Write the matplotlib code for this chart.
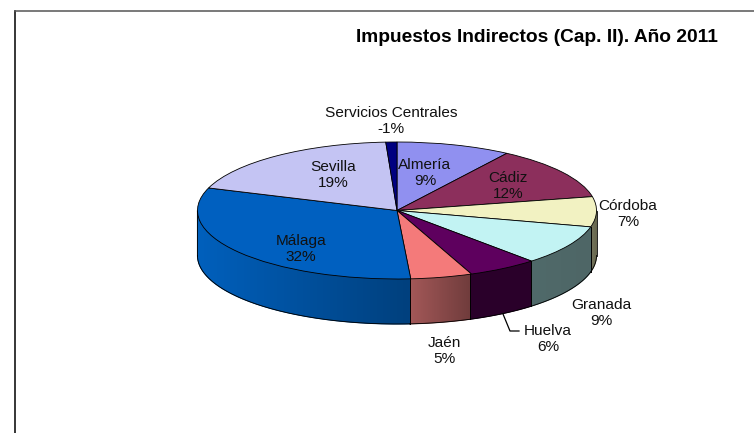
import numpy as np
import matplotlib
matplotlib.use("Agg")
import matplotlib.pyplot as plt
from matplotlib.colors import to_rgb
from matplotlib.patches import Polygon

plt.rcParams['font.family'] = ['Liberation Sans', 'DejaVu Sans']

# Datos
provincias = ["Almería", "Cádiz", "Córdoba", "Granada", "Huelva", "Jaén", "Málaga", "Sevilla", "Servicios Centrales"]
porcentajes = ["9%", "12%", "7%", "9%", "6%", "5%", "32%", "19%", "-1%"]
cuotas = [9.3, 12.5, 7.1, 9.4, 5.7, 5.0, 31.5, 18.8, 0.9]

colores = ["#9090f0", "#8c2f5c", "#f2f2c2", "#c2f3f3", "#5e005e", "#f47a7a", "#0060c0", "#c4c4f3", "#000080"]
pared_izq = ["#9090f0", "#8c2f5c", "#76765c", "#506a6a", "#2a002a", "#a35858", "#0060bc", "#c4c4f3", "#000080"]
pared_der = ["#9090f0", "#8c2f5c", "#66664e", "#4e6666", "#2a002a", "#703c3c", "#00407e", "#c4c4f3", "#000080"]

# posicion de etiquetas en pixeles
pos_x = [425, 508, 628, 601, 548, 444, 301, 333, 391]
pos_y = [173, 186, 214, 313, 339, 351, 249, 175, 121]

W, H = 754, 433
cx, cy, a, b, prof = 397, 210.5, 199.5, 68.5, 45

fig = plt.figure(figsize=(W / 100, H / 100), dpi=100)
ax = fig.add_axes([0, 0, 1, 1])

# pared lateral primero, con degradado recortado
prof_u = prof / b
ang = 90.0
for i, c in enumerate(cuotas):
    fin = ang - c * 3.6
    # solo la parte delantera: de -180 a 0 grados
    ini_t, fin_t = max(fin, -180.0), min(ang, 0.0)
    if ini_t < fin_t:
        t = np.linspace(ini_t, fin_t, 200)
        xs, ys = np.cos(np.radians(t)), np.sin(np.radians(t))
        borde = np.r_[np.c_[xs, ys], np.c_[xs[::-1], ys[::-1] - prof_u]]
        # base del mismo color para tapar la rendija entre trozos
        ax.add_patch(Polygon(borde, closed=True, facecolor=pared_der[i], edgecolor=pared_der[i], lw=0.8, zorder=0))
        grad = np.linspace(to_rgb(pared_izq[i]), to_rgb(pared_der[i]), 64)[None, :, :]
        im = ax.imshow(grad, extent=[xs.min(), xs.max(), (ys - prof_u).min(), ys.max()],
                       aspect="auto", interpolation="nearest", zorder=0.5)
        im.set_clip_path(Polygon(borde, closed=True, transform=ax.transData))
        ax.plot(xs, ys - prof_u, color="black", lw=0.6)
        ax.plot([xs[0], xs[0]], [ys[0], ys[0] - prof_u], color="black", lw=0.6)
        ax.plot([xs[-1], xs[-1]], [ys[-1], ys[-1] - prof_u], color="black", lw=0.6)
    ang = fin

ax.pie(cuotas, colors=colores, startangle=90, counterclock=False, radius=1,
       wedgeprops=dict(edgecolor="black", linewidth=0.6))
ax.set_aspect("auto")
ax.set_xlim(-cx / a, (W - cx) / a)
ax.set_ylim((cy - H) / b, cy / b)

# etiquetas
for n, p, x, y in zip(provincias, porcentajes, pos_x, pos_y):
    fig.text(x / W, 1 - y / H, n + "\n" + p, ha="center", va="center", fontsize=11.1,
             linespacing=1.27, color="#111111")

fig.text(537 / W, 1 - 38 / H, "Impuestos Indirectos (Cap. II). Año 2011", ha="center", va="center",
         fontsize=13.8, fontweight="bold")

# linea guia de Huelva y marco
fig.add_artist(plt.Line2D([503 / W, 510 / W, 519 / W], [1 - 314 / H, 1 - 331 / H, 1 - 331 / H], color="black", lw=0.9))
fig.add_artist(plt.Line2D([14.5 / W, 14.5 / W], [0, 1 - 10.5 / H], color="black", lw=1.1))
fig.add_artist(plt.Line2D([14.5 / W, 1], [1 - 10.5 / H, 1 - 10.5 / H], color="#555555", lw=1.1))

fig.savefig("out.png", dpi=100)
